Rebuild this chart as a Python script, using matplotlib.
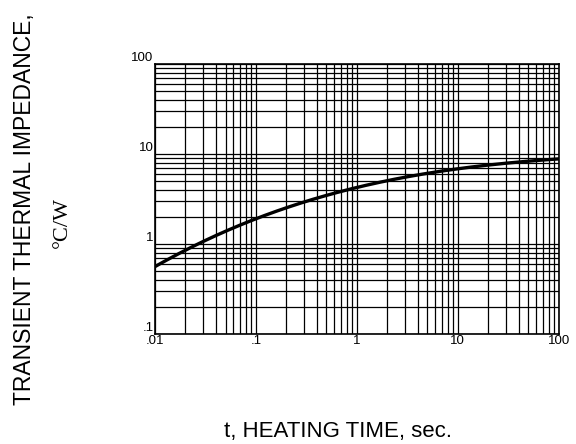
import matplotlib
matplotlib.use('Agg')
import matplotlib.pyplot as plt
from matplotlib.ticker import LogLocator, FixedLocator, NullFormatter
import numpy as np

plt.rcParams['font.family'] = ['Liberation Sans', 'DejaVu Sans']

# Heating time (s) and transient thermal impedance (degC/W)
t_sec = [0.01, 0.03, 0.1, 0.3, 1, 3, 10, 30, 100]
z_th = [0.55, 1.12, 1.8, 2.95, 4.3, 5.5, 6.8, 7.9, 8.8]

x_ticks = [0.01, 0.1, 1, 10, 100]
x_labels = ['.01', '.1', '1', '10', '100']
y_ticks = [0.1, 1, 10, 100]
y_labels = ['.1', '1', '10', '100']

fig = plt.figure(figsize=(5.76, 4.44), dpi=100)
ax = fig.add_axes([0.269, 0.248, 0.701, 0.608])

# smooth the curve in log space through the read points
lx = np.log10(t_sec)
ly = np.log10(z_th)
xs = np.linspace(lx[0], lx[-1], 200)
coef = np.polyfit(lx, ly, 3)
ax.plot(10 ** xs, 10 ** np.polyval(coef, xs), color='black', lw=2.4, zorder=3)

ax.set_xscale('log')
ax.set_yscale('log')
ax.set_xlim(0.01, 100)
ax.set_ylim(0.1, 100)

ax.xaxis.set_major_locator(FixedLocator(x_ticks))
ax.yaxis.set_major_locator(FixedLocator(y_ticks))
ax.xaxis.set_minor_locator(LogLocator(base=10, subs=np.arange(2, 10)))
ax.yaxis.set_minor_locator(LogLocator(base=10, subs=np.arange(2, 10)))
ax.xaxis.set_minor_formatter(NullFormatter())
ax.yaxis.set_minor_formatter(NullFormatter())
ax.set_xticklabels(x_labels, fontsize=9.5)
ax.set_yticklabels(y_labels, fontsize=9.5)
ax.tick_params(which='both', length=0, pad=1)
for lbl in ax.get_yticklabels():
    lbl.set_verticalalignment('bottom')

ax.grid(which='both', color='black', lw=0.9)
for s in ax.spines.values():
    s.set_linewidth(1.2)

fig.text(0.043, 0.529, 'TRANSIENT THERMAL IMPEDANCE,', rotation=90,
         ha='center', va='center', fontsize=16.5)
fig.text(0.108, 0.5, '\u00b0C/W', rotation=90, ha='center', va='center',
         fontsize=16, family=['Liberation Serif', 'DejaVu Serif'])
fig.text(0.587, 0.029, 't, HEATING TIME, sec.', ha='center', va='center',
         fontsize=16)

fig.savefig('out.png', dpi=100)
